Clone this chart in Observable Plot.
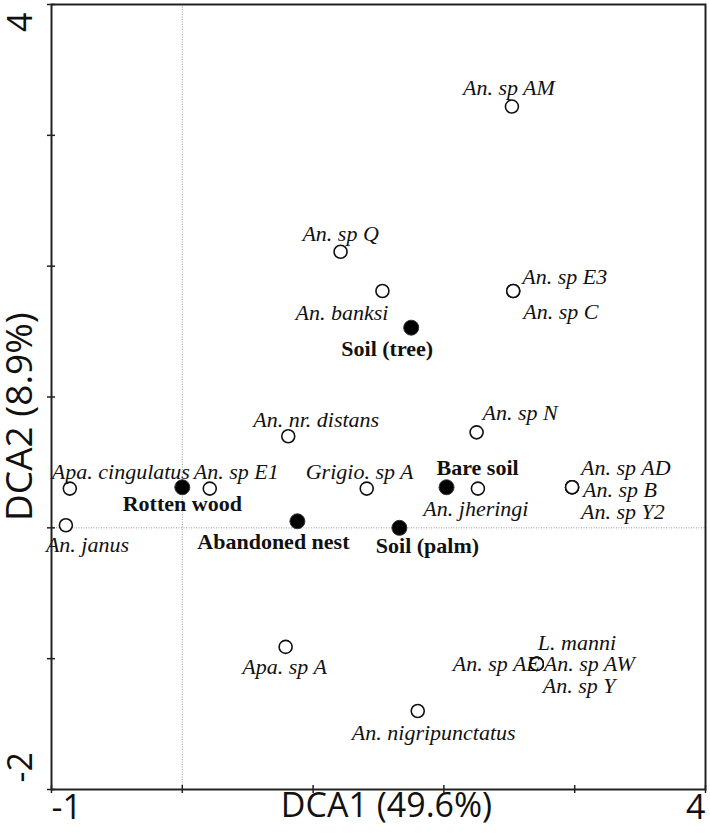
<!DOCTYPE html>
<html>
<head>
<meta charset="utf-8">
<script src="https://cdn.jsdelivr.net/npm/d3@7"></script>
<script src="https://cdn.jsdelivr.net/npm/@observablehq/plot@0.6"></script>
<style>
  html, body { margin: 0; padding: 0; background: #fff; }
  #chart svg { display: block; }
</style>
</head>
<body>
<div id="chart"></div>
<script>
// ---- Data ----
const speciesNames = ["An. sp AM","An. sp Q","An. banksi","An. sp E3","An. sp C","An. nr. distans","An. sp N",
  "Apa. cingulatus","An. sp E1","Grigio. sp A","An. jheringi","An. sp AD","An. sp B","An. sp Y2","An. janus",
  "Apa. sp A","An. sp AE","L. manni","An. sp AW","An. sp Y","An. nigripunctatus"];
const speciesDCA1 = [2.52, 1.21, 1.53, 2.53, 2.53, 0.81, 2.25, -0.86, 0.21, 1.41, 2.26, 2.98, 2.98, 2.98, -0.89,
  0.79, 2.71, 2.71, 2.71, 2.71, 1.80];
const speciesDCA2 = [3.22, 2.11, 1.81, 1.81, 1.81, 0.70, 0.73, 0.30, 0.30, 0.30, 0.30, 0.31, 0.31, 0.31, 0.02,
  -0.91, -1.04, -1.04, -1.04, -1.04, -1.40];

const habitatNames = ["Soil (tree)","Rotten wood","Bare soil","Abandoned nest","Soil (palm)"];
const habitatDCA1 = [1.75, 0.00, 2.02, 0.88, 1.66];
const habitatDCA2 = [1.53, 0.31, 0.31, 0.05, 0.00];

const xTicks = [-1, 0, 1, 2, 3, 4];
const yTicks = [-2, -1, 0, 1, 2, 3, 4];
const xTickLabels = [-1, 4];
const yTickLabels = [-2, 4];
const xTitle = "DCA1 (49.6%)";
const yTitle = "DCA2 (8.9%)";

// ---- Label placement (anchor, dx, dy in px) ----
const labelPlacement = {
  "An. sp AM": ["middle", -3, -19],
  "An. sp Q": ["middle", 0, -18],
  "An. banksi": ["end", 6, 22],
  "An. sp E3": ["start", 9, -14],
  "An. sp C": ["start", 10, 21],
  "An. nr. distans": ["start", -35, -16],
  "An. sp N": ["start", 6, -19],
  "Apa. cingulatus": ["start", -18, -17],
  "An. sp E1": ["start", -16, -17],
  "Grigio. sp A": ["start", -61, -17],
  "An. jheringi": ["middle", -2, 20],
  "An. sp AD": ["start", 9, -19],
  "An. sp B": ["start", 11, 3],
  "An. sp Y2": ["start", 9, 25],
  "An. janus": ["start", -20, 20],
  "Apa. sp A": ["middle", -1, 20],
  "An. sp AE": ["end", 3, 0],
  "L. manni": ["start", 1, -21],
  "An. sp AW": ["start", 7, 0],
  "An. sp Y": ["start", 6, 22],
  "An. nigripunctatus": ["middle", 16, 22],
  "Soil (tree)": ["middle", -24, 21],
  "Rotten wood": ["middle", 0, 17],
  "Bare soil": ["start", -10, -19],
  "Abandoned nest": ["middle", -24, 21],
  "Soil (palm)": ["middle", 28, 18]
};

const species = speciesNames.map((n, i) => ({name: n, x: speciesDCA1[i], y: speciesDCA2[i]}));
const habitats = habitatNames.map((n, i) => ({name: n, x: habitatDCA1[i], y: habitatDCA2[i]}));

const serif = "'Liberation Serif', 'Times New Roman', serif";
const sans = "'Open Sans', 'DejaVu Sans', sans-serif";

const labelMarks = [];
species.forEach(d => {
  const [a, dx, dy] = labelPlacement[d.name];
  labelMarks.push(Plot.text([d], {x: "x", y: "y", text: "name", textAnchor: a, dx, dy,
    fontFamily: serif, fontStyle: "italic", fontSize: 22, fill: "#111"}));
});
habitats.forEach(d => {
  const [a, dx, dy] = labelPlacement[d.name];
  labelMarks.push(Plot.text([d], {x: "x", y: "y", text: "name", textAnchor: a, dx, dy,
    fontFamily: serif, fontWeight: "bold", fontSize: 22, fill: "#111"}));
});

const chart = Plot.plot({
  width: 710,
  height: 835,
  marginLeft: 51,
  marginRight: 5,
  marginTop: 4,
  marginBottom: 46,
  x: {domain: [-1, 4]},
  y: {domain: [-2, 4]},
  style: {background: "#fff", overflow: "visible"},
  marks: [
    Plot.ruleX([0], {stroke: "#999", strokeWidth: 1, strokeDasharray: "1,1.5"}),
    Plot.ruleY([0], {stroke: "#999", strokeWidth: 1, strokeDasharray: "1,1.5"}),
    Plot.axisX(xTicks, {tickSize: 8, dy: -4, tickFormat: () => "", label: null, stroke: "#222", strokeWidth: 1.5}),
    Plot.axisY(yTicks, {tickSize: 8, dx: 4, tickFormat: () => "", label: null, stroke: "#222", strokeWidth: 1.5}),
    Plot.frame({stroke: "#222", strokeWidth: 2}),
    Plot.text(xTickLabels.filter(v => v === -1), {x: d => d, frameAnchor: "bottom", textAnchor: "start", dx: 0, dy: 29,
      fontFamily: sans, fontSize: 34, fill: "#111"}),
    Plot.text(xTickLabels.filter(v => v === 4), {x: d => d, frameAnchor: "bottom", textAnchor: "end", dx: 0, dy: 29,
      fontFamily: sans, fontSize: 34, fill: "#111"}),
    Plot.text(yTickLabels.filter(v => v === 4), {y: d => d, frameAnchor: "left", rotate: -90, textAnchor: "end", dx: -30, dy: 8,
      fontFamily: sans, fontSize: 34, fill: "#111"}),
    Plot.text(yTickLabels.filter(v => v === -2), {y: d => d, frameAnchor: "left", rotate: -90, textAnchor: "start", dx: -30, dy: -7,
      fontFamily: sans, fontSize: 34, fill: "#111"}),
    Plot.text([xTitle], {frameAnchor: "bottom", text: d => d, dx: 8, dy: 27, fontFamily: sans, fontSize: 34, fill: "#111"}),
    Plot.text([yTitle], {frameAnchor: "left", text: d => d, rotate: -90, dx: -31, dy: 124, fontFamily: sans, fontSize: 37, fill: "#111"}),
    Plot.dot(species, {x: "x", y: "y", r: 6.5, fill: "white", stroke: "#111", strokeWidth: 1.6}),
    Plot.dot(habitats, {x: "x", y: "y", r: 7.5, fill: "#000", stroke: "#333", strokeWidth: 1}),
    ...labelMarks
  ]
});
document.getElementById("chart").appendChild(chart);
</script>
</body>
</html>
